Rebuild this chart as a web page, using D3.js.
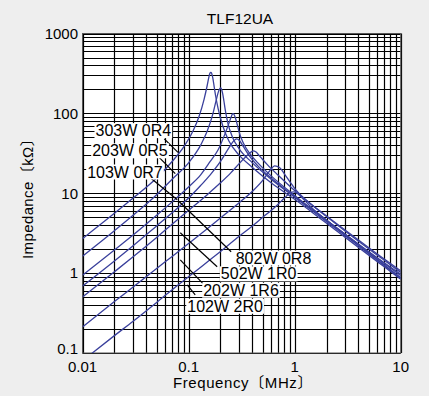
<!DOCTYPE html>
<html>
<head>
<meta charset="utf-8">
<script src="https://cdn.jsdelivr.net/npm/d3@7"></script>
<style>
  body { margin: 0; background: #eeeeee; }
  svg { display: block; font-family: "Liberation Sans", Arial, "Noto Sans CJK JP", sans-serif; }
</style>
</head>
<body>
<svg></svg>
<script>
// impedance curves, frequency in MHz, impedance in kOhm
var title = 'TLF12UA'
var xTicks = [0.01, 0.1, 1, 10]
var xTickLabels = ['0.01', '0.1', '1', '10']
var yTicks = [0.1, 1, 10, 100, 1000]
var yTickLabels = ['0.1', '1', '10', '100', '1000']

var names = ['303W 0R4', '203W 0R5', '103W 0R7', '802W 0R8', '502W 1R0', '202W 1R6', '102W 2R0']

var freqA = [0.01, 0.02, 0.03, 0.05, 0.07, 0.09, 0.11, 0.125, 0.14, 0.15, 0.155, 0.159, 0.162, 0.165, 0.169, 0.174, 0.18, 0.19, 0.21, 0.24, 0.3, 0.4, 0.6, 1, 2, 4, 7, 10]
var impA  = [2.7, 5.6, 8.7, 15.5, 25, 38, 60, 90, 150, 225, 280, 318, 327, 318, 280, 220, 165, 115, 70, 45, 30, 21, 13.5, 8.4, 4.2, 2.1, 1.2, 0.84]

var freqB = [0.01, 0.02, 0.03, 0.05, 0.07, 0.1, 0.13, 0.15, 0.17, 0.183, 0.192, 0.197, 0.2, 0.204, 0.209, 0.215, 0.222, 0.235, 0.26, 0.3, 0.4, 0.6, 1, 2, 4, 7, 10]
var impB  = [1.63, 3.4, 5.3, 9.6, 15, 24, 40, 60, 100, 150, 190, 204, 208, 202, 180, 145, 110, 75, 50, 36, 24, 15, 8.9, 4.4, 2.2, 1.26, 0.88]

var freqC = [0.01, 0.02, 0.03, 0.05, 0.07, 0.1, 0.13, 0.16, 0.19, 0.22, 0.24, 0.252, 0.258, 0.263, 0.269, 0.276, 0.288, 0.3, 0.33, 0.38, 0.45, 0.6, 1, 2, 4, 7, 10]
var impC  = [0.94, 1.95, 3.0, 5.3, 7.8, 12, 17, 25, 35, 55, 75, 90, 97, 99, 96, 88, 72, 58, 42, 31, 24, 16.5, 9.4, 4.6, 2.3, 1.32, 0.93]

var freqD = [0.01, 0.02, 0.03, 0.05, 0.07, 0.1, 0.13, 0.16, 0.2, 0.24, 0.27, 0.285, 0.3, 0.33, 0.37, 0.45, 0.6, 1, 2, 4, 7, 10]
var impD  = [0.686, 1.42, 2.2, 3.9, 5.7, 8.7, 12.5, 17, 25, 37, 46, 48, 46, 38, 30, 22, 15.5, 9.1, 4.6, 2.3, 1.35, 0.97]

var freqE = [0.01, 0.02, 0.03, 0.05, 0.07, 0.1, 0.15, 0.2, 0.25, 0.3, 0.35, 0.39, 0.41, 0.43, 0.47, 0.55, 0.7, 1, 2, 4, 7, 10]
var impE  = [0.504, 1.04, 1.6, 2.8, 4.1, 6.1, 9.6, 13.5, 18, 23.5, 29, 33, 34, 33, 29, 23, 16.8, 10.8, 5.1, 2.5, 1.45, 1.02]

var freqF = [0.01, 0.02, 0.03, 0.05, 0.07, 0.1, 0.15, 0.2, 0.3, 0.4, 0.5, 0.58, 0.65, 0.72, 0.8, 0.9, 1, 1.3, 2, 4, 7, 10]
var impF  = [0.212, 0.44, 0.67, 1.14, 1.62, 2.35, 3.6, 4.9, 7.6, 10.6, 14.5, 19, 22, 21, 17.5, 14, 11.5, 8.1, 5.2, 2.6, 1.5, 1.07]

var freqG = [0.01, 0.02, 0.03, 0.05, 0.07, 0.1, 0.15, 0.2, 0.3, 0.4, 0.5, 0.6, 0.7, 0.8, 0.9, 0.97, 1.05, 1.2, 1.5, 2, 4, 7, 10]
var impG  = [0.08, 0.165, 0.25, 0.43, 0.62, 0.9, 1.38, 1.87, 2.9, 3.9, 5, 6.1, 7.3, 8.7, 10, 10.4, 10, 8.5, 6.3, 4.6, 2.25, 1.25, 0.86]

// label anchors [freq, imp] and leader lines [[f1, z1], [f2, z2]]
var labelPos = [[0.01326, 61], [0.01234, 34.1], [0.01107, 18.5], [0.2783, 1.55], [0.2016, 0.982], [0.1374, 0.613], [0.0972, 0.386]]
var leaders = [
    [[0.0590, 48], [0.0795, 32.5]],
    [[0.0519, 28.7], [0.0749, 17.6]],
    [[0.0436, 15.6], [0.0782, 8.3]],
    [[0.0817, 7.82], [0.252, 1.85]],
    [[0.0835, 3.2], [0.186, 1.2]],
    [[0.0835, 1.466], [0.1404, 0.712]],
    [[0.0972, 0.712], [0.1155, 0.534]]
]

var series = [[freqA, impA], [freqB, impB], [freqC, impC], [freqD, impD], [freqE, impE], [freqF, impF], [freqG, impG]]

var svgWidth = 429, svgHeight = 396
var plotLeft = 82.5, plotRight = 400.7, plotTop = 33.5, plotBottom = 353

var svg = d3.select('svg')
    .attr('width', svgWidth)
    .attr('height', svgHeight)

var x = d3.scaleLog().domain([0.01, 10]).range([plotLeft, plotRight])
var y = d3.scaleLog().domain([0.1, 1000]).range([plotBottom, plotTop])

// plot area
svg.append('rect')
    .attr('x', plotLeft).attr('y', plotTop)
    .attr('width', plotRight - plotLeft).attr('height', plotBottom - plotTop)
    .style('fill', '#ffffff')

// grid: every 1..9 in each decade
var xGrid = [], yGrid = []
xTicks.slice(0, -1).forEach(function(d) { for (var k = 1; k < 10; k++) xGrid.push(d * k) })
xGrid.push(10)
yTicks.slice(0, -1).forEach(function(d) { for (var k = 1; k < 10; k++) yGrid.push(d * k) })
yGrid.push(1000)

svg.append('g').selectAll('line')
    .data(xGrid)
    .enter()
    .append('line')
    .attr('x1', function(d) { return Math.round(x(d)) + 0.5 })
    .attr('x2', function(d) { return Math.round(x(d)) + 0.5 })
    .attr('y1', plotTop).attr('y2', plotBottom)
    .style('stroke', '#000').style('stroke-width', 1.2)

svg.append('g').selectAll('line')
    .data(yGrid)
    .enter()
    .append('line')
    .attr('y1', function(d) { return Math.round(y(d)) + 0.5 })
    .attr('y2', function(d) { return Math.round(y(d)) + 0.5 })
    .attr('x1', plotLeft).attr('x2', plotRight)
    .style('stroke', '#000').style('stroke-width', 1.2)

svg.append('rect')
    .attr('x', plotLeft).attr('y', plotTop)
    .attr('width', plotRight - plotLeft).attr('height', plotBottom - plotTop)
    .style('fill', 'none').style('stroke', '#555').style('stroke-width', 1)

// curves
svg.append('clipPath').attr('id', 'clip')
    .append('rect')
    .attr('x', plotLeft).attr('y', plotTop)
    .attr('width', plotRight - plotLeft).attr('height', plotBottom - plotTop)

var line = d3.line()
    .x(function(d) { return x(d[0]) })
    .y(function(d) { return y(d[1]) })
    .curve(d3.curveMonotoneX)

svg.append('g').attr('clip-path', 'url(#clip)')
    .selectAll('path')
    .data(series)
    .enter()
    .append('path')
    .attr('d', function(s) { return line(s[0].map(function(f, i) { return [f, s[1][i]] })) })
    .style('fill', 'none')
    .style('stroke', '#3a409c')
    .style('stroke-width', 1.3)

// leader lines
svg.append('g').selectAll('line')
    .data(leaders)
    .enter()
    .append('line')
    .attr('x1', function(d) { return x(d[0][0]) })
    .attr('y1', function(d) { return y(d[0][1]) })
    .attr('x2', function(d) { return x(d[1][0]) })
    .attr('y2', function(d) { return y(d[1][1]) })
    .style('stroke', '#000').style('stroke-width', 1.2)

// labels with white boxes
var labels = svg.append('g').selectAll('g')
    .data(names)
    .enter()
    .append('g')

labels.append('text')
    .text(function(d) { return d })
    .attr('x', function(d, i) { return x(labelPos[i][0]) })
    .attr('y', function(d, i) { return y(labelPos[i][1]) })
    .attr('dy', '0.35em')
    .style('font-size', '16px')
    .style('fill', '#000')

labels.each(function() {
    var g = d3.select(this)
    var bb = g.select('text').node().getBBox()
    g.insert('rect', 'text')
        .attr('x', bb.x - 1).attr('y', bb.y + 1)
        .attr('width', bb.width + 2).attr('height', bb.height - 2)
        .style('fill', '#ffffff')
})

// tick labels
svg.append('g').selectAll('text')
    .data(xTicks)
    .enter()
    .append('text')
    .text(function(d, i) { return xTickLabels[i] })
    .attr('x', function(d) { return x(d) })
    .attr('y', 372)
    .attr('text-anchor', 'middle')
    .style('font-size', '15px')

svg.append('g').selectAll('text')
    .data(yTicks)
    .enter()
    .append('text')
    .text(function(d, i) { return yTickLabels[i] })
    .attr('x', 78)
    .attr('y', function(d, i) { return y(d) - (i === 0 ? 4 : 0) })
    .attr('dy', '0.35em')
    .attr('text-anchor', 'end')
    .style('font-size', '15px')

// titles
svg.append('text')
    .text(title)
    .attr('x', 240).attr('y', 24)
    .attr('text-anchor', 'middle')
    .style('font-size', '15.5px')

svg.append('text')
    .text('Frequency〔MHz〕')
    .attr('x', 243).attr('y', 388)
    .attr('text-anchor', 'middle')
    .style('font-size', '15px')
    .style('letter-spacing', '0.6px')

svg.append('text')
    .text('Impedance〔kΩ〕')
    .attr('transform', 'translate(33,195) rotate(-90)')
    .attr('text-anchor', 'middle')
    .style('font-size', '15px')
    .style('letter-spacing', '0.4px')
</script>
</body>
</html>
